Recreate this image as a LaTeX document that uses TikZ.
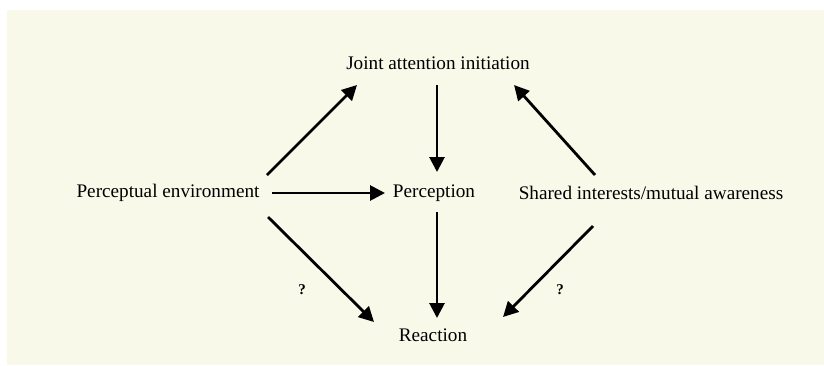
\documentclass[tikz,border=0pt]{standalone}
\usepackage{fontspec}
\setmainfont{Liberation Serif}
\usetikzlibrary{arrows.meta}
\definecolor{cream}{RGB}{249,249,234}
\begin{document}
\begin{tikzpicture}[x=1pt,y=-1pt,
  lbl/.style={inner sep=0pt, font=\fontsize{19.2}{22}\selectfont},
  qm/.style={inner sep=0pt, font=\fontsize{15}{17}\selectfont\bfseries},
  arr/.style={line width=2.8pt, -{Triangle[length=15pt,width=15pt]}}]
\useasboundingbox (0,0) rectangle (824,365);
\fill[white] (0,0) rectangle (824,365);
\fill[cream] (7,10) rectangle (824,365);
\node[lbl] (jai) at (438,63) {Joint attention initiation};
\node[lbl] (pe) at (168,193) {Perceptual environment};
\node[lbl] (perc) at (434,193) {Perception};
\node[lbl] (sima) at (651,193) {Shared interests/mutual awareness};
\node[lbl] (reac) at (433,335) {Reaction};
\node[qm] (q1) at (302,290) {?};
\node[qm] (q2) at (560,290) {?};
\draw[arr] ([shift={(99,-18)}]pe.center) -- ([shift={(-81,22)}]jai.center);
\draw[arr] ([shift={(104,0)}]pe.center) -- ([shift={(-49,0)}]perc.center);
\draw[arr] ([shift={(100,24)}]pe.center) -- ([shift={(-59,-13)}]reac.center);
\draw[arr] ([shift={(-1,22)}]jai.center) -- ([shift={(3,-21)}]perc.center);
\draw[arr] ([shift={(3,19)}]perc.center) -- ([shift={(4,-17)}]reac.center);
\draw[arr] ([shift={(-56,-18)}]sima.center) -- ([shift={(76,22)}]jai.center);
\draw[arr] ([shift={(-58,33)}]sima.center) -- ([shift={(70,-18)}]reac.center);
\end{tikzpicture}
\end{document}
